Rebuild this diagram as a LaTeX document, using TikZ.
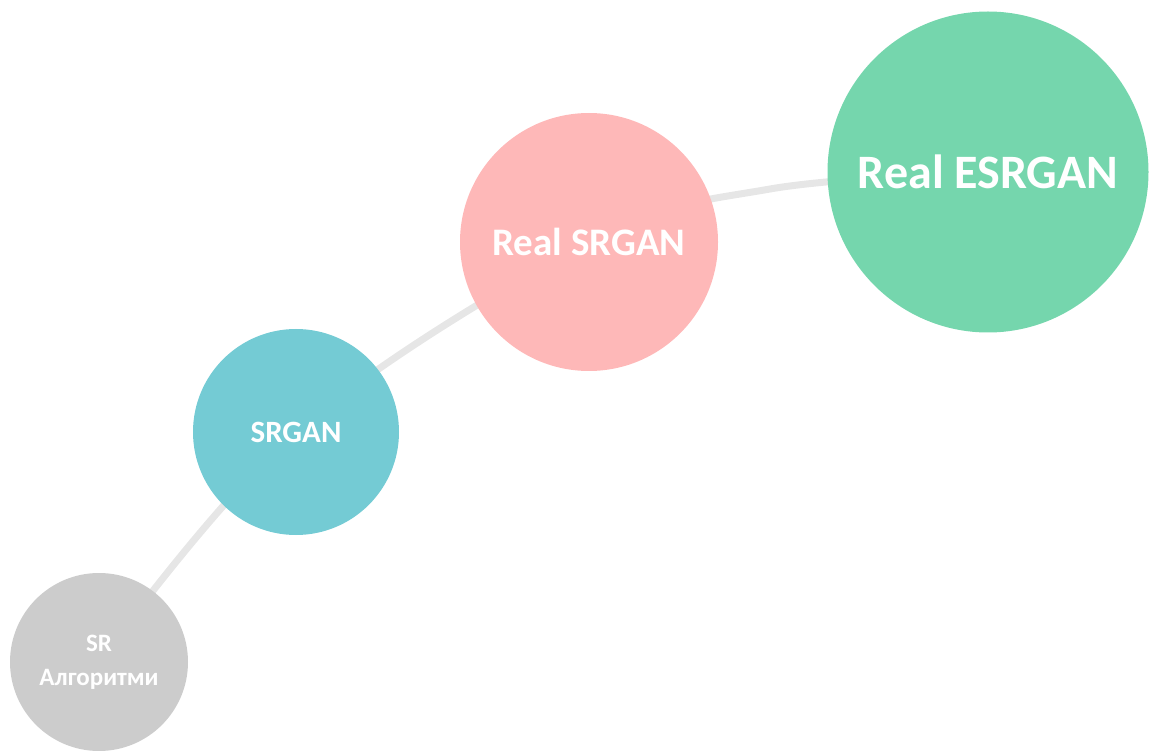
\documentclass[tikz,border=0pt]{standalone}
\usepackage{fontspec}
\setmainfont{Carlito}
\definecolor{cgray}{HTML}{CCCCCC}
\definecolor{cteal}{HTML}{74CBD4}
\definecolor{cpink}{HTML}{FEB8B8}
\definecolor{cgreen}{HTML}{75D6AD}
\definecolor{cline}{HTML}{E6E6E6}
\tikzset{
  bubble/.style={circle, inner sep=0pt, text=white, font=\bfseries, align=center},
  track/.style={draw=cline, line width=7pt}
}
\begin{document}
\begin{tikzpicture}[x=1pt,y=-1pt]
\useasboundingbox (0,0) rectangle (1152,751);
\coordinate (c1) at (99,662);
\coordinate (c2) at (296,432);
\coordinate (c3) at (589,242);
\coordinate (m34) at (770,189);
\coordinate (c4) at (988,172);
\draw[track] plot[smooth, tension=0.6] coordinates {(c1) (c2) (c3) (m34) (c4)};
\node[bubble, fill=cgray, minimum size=178pt, font=\bfseries\fontsize{25}{34}\selectfont] (n1) at (c1) {SR\\Алгоритми};
\node[bubble, fill=cteal, minimum size=206pt, font=\bfseries\fontsize{31}{36}\selectfont] (n2) at (c2) {SRGAN};
\node[bubble, fill=cpink, minimum size=258pt, font=\bfseries\fontsize{39}{44}\selectfont] (n3) at (c3) {Real SRGAN};
\node[bubble, fill=cgreen, minimum size=321pt, font=\bfseries\fontsize{48}{54}\selectfont] (n4) at (c4) {Real ESRGAN};
\end{tikzpicture}
\end{document}
